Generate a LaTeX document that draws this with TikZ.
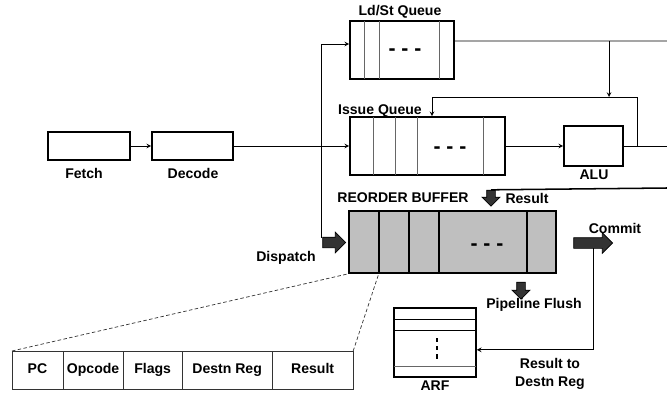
\documentclass[tikz,border=0pt]{standalone}
\usepackage{fontspec}
\setmainfont{Liberation Sans}
\usetikzlibrary{shapes.arrows}

\tikzstyle{unit}=[shape=rectangle,
                  draw=black,
                  line width=1.4pt,
                  inner sep=0pt]
\tikzstyle{robbox}=[unit,
                    fill=black!25]
\tikzstyle{sep}=[draw=black!60,
                 line width=0.6pt]
\tikzstyle{robsep}=[draw=black,
                    line width=1.2pt]
\tikzstyle{lbl}=[font=\fontsize{12}{15.3}\selectfont\bfseries]
\tikzstyle{cell}=[lbl,
                  shape=rectangle,
                  draw=black!80,
                  line width=0.8pt,
                  minimum height=1.14cm,
                  text height=1.6ex,
                  text depth=0.4ex,
                  outer sep=0pt,
                  anchor=west]
\tikzstyle{fat}=[shape=single arrow,
                 draw=black,
                 fill=black!80,
                 line width=0.6pt,
                 inner sep=0.15cm,
                 single arrow head extend=0.15cm]
\tikzstyle{fatdown}=[fat,
                     inner sep=0.12cm,
                     single arrow head extend=0.14cm,
                     shape border rotate=270]
\tikzstyle{more}=[font=\fontsize{18}{18}\selectfont\bfseries]

\begin{document}
\begin{tikzpicture}[x=0.03cm,y=-0.03cm,>=stealth,line width=0.8pt]
\useasboundingbox (0,0) rectangle (667,394);

% front end
\node[unit,minimum width=2.46cm,minimum height=0.84cm] (fetch)  at (89,146)    {};
\node[unit,minimum width=2.43cm,minimum height=0.84cm] (decode) at (192.5,146) {};
\node[lbl] (fetchl)  at (84,173)  {Fetch};
\node[lbl] (decodel) at (193,173) {Decode};

% queues and ALU
\node[unit,minimum width=3.12cm,minimum height=1.74cm] (ldst) at (402,50)    {};
\node[unit,minimum width=4.65cm,minimum height=1.74cm] (iq)   at (427.5,146) {};
\node[unit,minimum width=1.77cm,minimum height=1.2cm]  (alu)  at (593.5,146) {};
\node[lbl] (ldstl) at (400,12)  {Ld/St Queue};
\node[lbl] (iql)   at (380,111) {Issue Queue};
\node[lbl] (alul)  at (594,175) {ALU};
\foreach \x in {364,379,439} \draw[sep] (\x,21) -- (\x,79);
\foreach \x in {373,395,417,483} \draw[sep] (\x,117) -- (\x,175);
\node[more] (ldstm) at (405,52)  {- - -};
\node[more] (iqm)   at (450,150) {- - -};

% reorder buffer
\node[robbox,minimum width=6.21cm,minimum height=1.86cm] (rob) at (452.5,242) {};
\foreach \x in {379,409,439,527} \draw[robsep] (\x,211) -- (\x,273);
\node[more] (robm) at (487,247) {- - -};
\node[lbl] (robl) at (403,198) {REORDER BUFFER};
\node[lbl] (resl) at (527,198) {Result};
\coordinate (rob1) at (379,273);

% fat arrows
\node[fat,minimum height=0.69cm] (disp)   at (331.5,242.5) {};
\node[fat,minimum height=1.17cm] (commit) at (590.5,243)   {};
\node[fatdown,minimum height=0.48cm] (res)   at (491,196)   {};
\node[fatdown,minimum height=0.51cm] (flush) at (521,288.5) {};
\node[lbl] (displ)   at (286,258) {Dispatch};
\node[lbl] (commitl) at (615,228) {Commit};
\node[lbl] (flushl)  at (534,305) {Pipeline Flush};

% architectural register file
\node[unit,minimum width=2.46cm,minimum height=2.07cm] (arf) at (435,342.5) {};
\draw (394,319) -- (476,319);
\draw (394,330) -- (476,330);
\draw[sep] (394,366) -- (476,366);
\draw[line width=1.5pt,dash pattern=on 3.5pt off 3.5pt] (437,338) -- (437,359);
\node[lbl] (arfl) at (435,386) {ARF};
\node[lbl,align=center] (rtdl) at (550,374) {Result to\\Destn Reg};

% ROB entry
\node[cell,minimum width=1.53cm] (pc)    at (12,370)   {PC};
\node[cell,minimum width=1.77cm] (opc)   at (pc.east)  {Opcode};
\node[cell,minimum width=1.77cm] (flg)   at (opc.east) {Flags};
\node[cell,minimum width=2.7cm]  (dreg)  at (flg.east) {Destn Reg};
\node[cell,minimum width=2.43cm] (rslt)  at (dreg.east) {Result};

% connections
\coordinate (dtop)   at (321,238);
\coordinate (ldout)  at (667,41);
\coordinate (tap)    at (609,41);
\coordinate (fb)     at (609,97);
\coordinate (aluout) at (667,146);
\coordinate (tap2)   at (637,146);
\coordinate (fbr)    at (637,97);
\coordinate (fbl)    at (432,97);
\coordinate (resin)  at (667,188);
\coordinate (cout)   at (593,248);

\draw[->] (fetch) -- (decode);
\draw[->] (decode) -- (iq);
\draw[->] (iq) -- (alu);
\draw[->] (dtop) |- ([yshift=0.18cm]ldst.west);
\draw ([yshift=0.27cm]ldst.east) -- (ldout);
\draw[->] (tap) -- (fb);
\draw (alu) -- (aluout);
\draw[->] (tap2) -- (fbr) -- (fbl) -- (fbl |- iq.north);
\draw[line width=1.3pt] (resin) -- (res.tail);
\draw[->] (cout) |- ([yshift=-0.22cm]arf.east);
\draw[black!80,line width=0.6pt,dash pattern=on 3pt off 2pt] (pc.north west) -- (rob.south west)
     (rslt.north east) -- (rob1);
\end{tikzpicture}
\end{document}
